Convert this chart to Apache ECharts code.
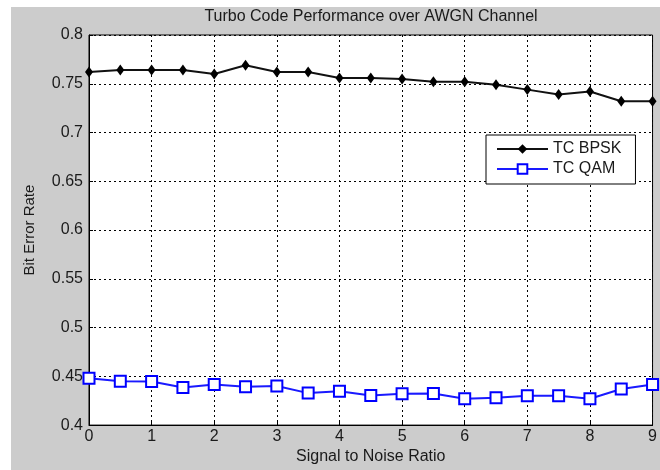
<!DOCTYPE html>
<html>
<head>
<meta charset="utf-8">
<script src="https://cdn.jsdelivr.net/npm/echarts@6/dist/echarts.min.js"></script>
<style>
  html, body { margin: 0; padding: 0; background: #fff; }
  #chart { position: absolute; left: 11px; top: 7px; width: 649px; height: 463px; }
</style>
</head>
<body>
<div id="chart"></div>
<script>
// values
var snr = [0, 0.5, 1, 1.5, 2, 2.5, 3, 3.5, 4, 4.5, 5, 5.5, 6, 6.5, 7, 7.5, 8, 8.5, 9];
var bpsk = [0.762, 0.764, 0.764, 0.764, 0.760, 0.769, 0.762, 0.762, 0.756, 0.756,
            0.755, 0.752, 0.752, 0.749, 0.744, 0.739, 0.742, 0.732, 0.732];
var qam = [0.448, 0.445, 0.4446, 0.4385, 0.4416, 0.4392, 0.440, 0.4328, 0.4348, 0.4304,
           0.4321, 0.4324, 0.427, 0.428, 0.430, 0.430, 0.427, 0.437, 0.4416];

function pairs (xs, ys) {
  var out = [];
  for (var i = 0; i < xs.length; i++) {
    out.push([xs[i], ys[i]]);
  }
  return out;
}

var font = 'Liberation Sans, Arial, sans-serif';
var txt = '#1a1a1a';

var myChart = echarts.init(document.getElementById('chart'));

var option = {
  backgroundColor: '#cccccc',
  animation: false,
  textStyle: { fontFamily: font },
  title: {
    text: 'Turbo Code Performance over AWGN Channel',
    left: 360,
    top: 2,
    textAlign: 'center',
    padding: 0,
    textStyle: { fontSize: 16, fontWeight: 'normal', color: txt, fontFamily: font }
  },
  legend: {
    orient: 'vertical',
    left: 475,
    top: 128,
    padding: [6, 14, 7, 10],
    itemWidth: 51,
    itemHeight: 12,
    itemGap: 4,
    backgroundColor: '#fff',
    borderColor: '#000',
    borderWidth: 1,
    borderRadius: 0,
    textStyle: { fontSize: 16, color: txt, fontFamily: font },
    data: ['TC BPSK', 'TC QAM']
  },
  grid: {
    left: 78,
    top: 28,
    right: 7,
    bottom: 39,
    show: true,
    backgroundColor: '#fff',
    borderColor: '#000',
    borderWidth: 1
  },
  xAxis: {
    type: 'value',
    min: 0,
    max: 9,
    interval: 1,
    name: 'Signal to Noise Ratio',
    nameLocation: 'middle',
    nameGap: 22,
    nameTextStyle: { fontSize: 16, color: txt },
    axisLine: { lineStyle: { color: '#000' } },
    axisTick: { inside: true, length: 4, lineStyle: { color: '#000' } },
    axisLabel: { fontSize: 16, color: txt, margin: 3 },
    splitLine: { lineStyle: { color: '#000', type: [2, 3] } }
  },
  yAxis: {
    type: 'value',
    min: 0.4,
    max: 0.8,
    interval: 0.05,
    name: 'Bit Error Rate',
    nameLocation: 'middle',
    nameGap: 52,
    nameTextStyle: { fontSize: 15, color: txt },
    axisLine: { show: true, lineStyle: { color: '#000' } },
    axisTick: { show: true, inside: true, length: 4, lineStyle: { color: '#000' } },
    axisLabel: { fontSize: 16, color: txt, margin: 6 },
    splitLine: { lineStyle: { color: '#000', type: [2, 3] } }
  },
  series: [
    {
      name: 'TC BPSK',
      type: 'line',
      data: pairs(snr, bpsk),
      symbol: 'diamond',
      symbolSize: [8, 11],
      lineStyle: { color: '#111', width: 2 },
      itemStyle: { color: '#000' }
    },
    {
      name: 'TC QAM',
      type: 'line',
      data: pairs(snr, qam),
      symbol: 'rect',
      symbolSize: 11,
      lineStyle: { color: '#1a1aff', width: 2 },
      itemStyle: { color: '#fff', borderColor: '#0000ff', borderWidth: 2 }
    }
  ]
};

myChart.setOption(option);
</script>
</body>
</html>
